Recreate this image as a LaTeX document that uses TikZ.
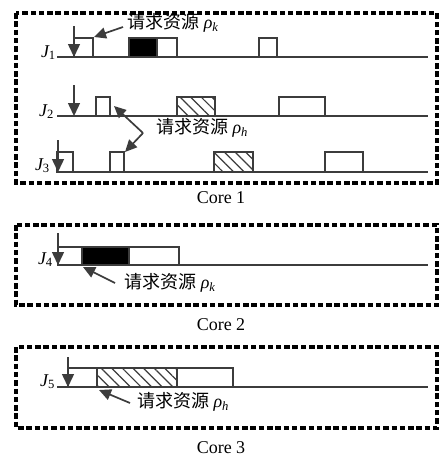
\documentclass[tikz,border=0pt]{standalone}
\usepackage{fontspec}
\setmainfont{Liberation Serif}
\newfontfamily\cjk{Noto Sans CJK SC}
\usetikzlibrary{arrows.meta,patterns.meta}
\definecolor{lc}{RGB}{60,60,60}
\newcommand{\rhok}[1]{\textit{ρ}\textsubscript{\textit{#1}}}
\begin{document}
\begin{tikzpicture}[x=1pt,y=-1pt,
  frame/.style={draw=black,line width=3.4pt,dash pattern=on 5.5pt off 2.8pt},
  axis/.style={draw=lc,line width=1.5pt},
  blk/.style={draw=lc,line width=1.5pt,fill=white},
  solid/.style={draw=lc,line width=1.5pt,fill=black},
  hatch/.style={draw=lc,line width=1.5pt,pattern={Lines[angle=-45,distance=7.5pt,line width=1.2pt]},pattern color=lc},
  rel/.style={draw=lc,line width=1.5pt,-{Triangle[length=13pt,width=12pt]}},
  pt/.style={draw=lc,line width=1.7pt,-{Triangle[length=12pt,width=11pt]}},
  jl/.style={anchor=base east,font=\fontsize{18}{20}\selectfont\itshape,inner sep=0pt},
  rl/.style={font=\fontsize{18}{20}\selectfont,inner sep=0pt},
  cl/.style={font=\fontsize{18}{20}\selectfont,inner sep=0pt}]
\useasboundingbox (0,0) rectangle (440,458);

% ---------- Core 1 ----------
\draw[frame] (16,13) rectangle (437,183);
\node[cl] (core1) at (221,198) {Core 1};

% J1
\node[jl] (j1) at (56,57) {J\textsubscript{\upshape 1}};
\draw[axis] (57,57) -- (428,57);
\draw[blk] (74,38) rectangle (93,57);
\draw[solid] (129,38) rectangle (157,57);
\draw[blk] (157,38) rectangle (177,57);
\draw[blk] (259,38) rectangle (277,57);
\coordinate (r1s) at (74,26); \coordinate (r1e) at (74,57);
\draw[rel] (r1s) -- (r1e);
\node[rl] (lk1) at (173,23) {{\cjk 请求资源} \rhok{k}};
\coordinate (a1) at (123,27); \coordinate (t1) at (94,37);
\draw[pt] (a1) -- (t1);

% J2
\node[jl] (j2) at (54,116) {J\textsubscript{\upshape 2}};
\draw[axis] (57,116) -- (428,116);
\draw[blk] (96,97) rectangle (110,116);
\draw[hatch] (177,97) rectangle (215,116);
\draw[blk] (279,97) rectangle (325,116);
\coordinate (r2s) at (74,85); \coordinate (r2e) at (74,116);
\draw[rel] (r2s) -- (r2e);

\node[rl] (lh1) at (202,128) {{\cjk 请求资源} \rhok{h}};
\coordinate (v1) at (143,133);
\coordinate (t2) at (114,106);
\coordinate (t3) at (125,152);
\draw[pt] (v1) -- (t2);
\draw[pt] (v1) -- (t3);

% J3
\node[jl] (j3) at (50,170) {J\textsubscript{\upshape 3}};
\draw[axis] (57,172) -- (428,172);
\draw[blk] (57,152) rectangle (73,172);
\draw[blk] (110,152) rectangle (124,172);
\draw[hatch] (214,152) rectangle (253,172);
\draw[blk] (325,152) rectangle (363,172);
\coordinate (r3s) at (58,140); \coordinate (r3e) at (58,172);
\draw[rel] (r3s) -- (r3e);

% ---------- Core 2 ----------
\draw[frame] (16,225) rectangle (437,305);
\node[cl] (core2) at (221,325) {Core 2};

\node[jl] (j4) at (53,264) {J\textsubscript{\upshape 4}};
\draw[axis] (57,265) -- (428,265);
\draw[blk] (58,247) rectangle (82,265);
\draw[solid] (82,247) rectangle (129,265);
\draw[blk] (129,247) rectangle (179,265);
\coordinate (r4s) at (58,233); \coordinate (r4e) at (58,265);
\draw[rel] (r4s) -- (r4e);
\node[rl] (lk2) at (170,283) {{\cjk 请求资源} \rhok{k}};
\coordinate (a4) at (115,283); \coordinate (t4) at (83,267);
\draw[pt] (a4) -- (t4);

% ---------- Core 3 ----------
\draw[frame] (16,347) rectangle (437,428);
\node[cl] (core3) at (221,448) {Core 3};

\node[jl] (j5) at (55,386) {J\textsubscript{\upshape 5}};
\draw[axis] (57,387) -- (428,387);
\draw[blk] (68,368) rectangle (97,387);
\draw[hatch] (97,368) rectangle (177,387);
\draw[blk] (177,368) rectangle (233,387);
\coordinate (r5s) at (68,357); \coordinate (r5e) at (68,387);
\draw[rel] (r5s) -- (r5e);
\node[rl] (lh2) at (183,402) {{\cjk 请求资源} \rhok{h}};
\coordinate (a5) at (130,403); \coordinate (t5) at (99,390);
\draw[pt] (a5) -- (t5);
\end{tikzpicture}
\end{document}
